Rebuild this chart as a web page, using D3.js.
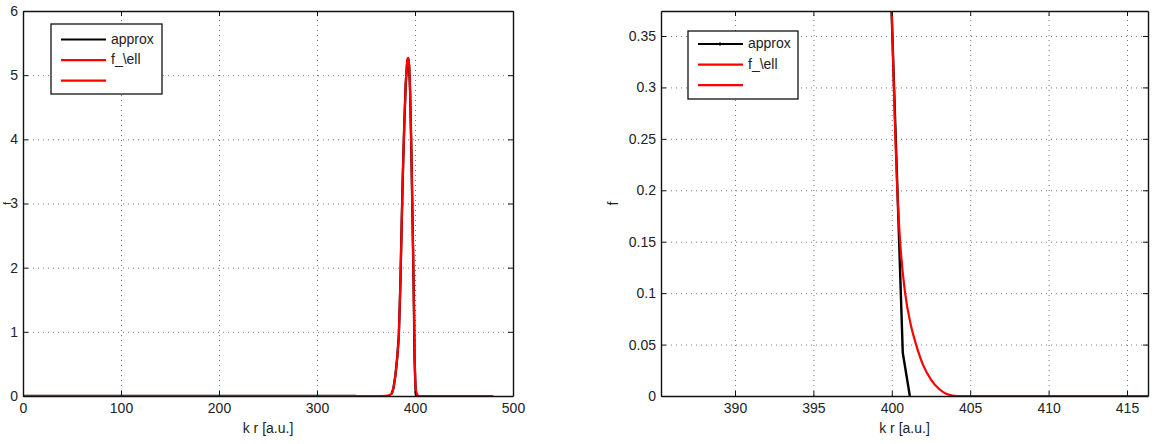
<!DOCTYPE html>
<html>
<head>
<meta charset="utf-8">
<script src="https://cdn.jsdelivr.net/npm/d3@7"></script>
<style>
  body { margin: 0; background: #fff; }
  svg { display: block; }
  text { font-family: "Liberation Sans", Arial, sans-serif; fill: #222; }
</style>
</head>
<body>
<script>
 ///////////////////////////////////////////////////////
 // data

 // f_\ell (red), sampled along k r
 var krEll = [0, 100, 200, 300, 340, 360, 370, 374, 376, 378, 380, 382, 383.5, 385, 386.3, 387.5, 389, 390.5, 392, 393,
   394, 395, 396, 397, 398, 399, 399.6, 400, 400.13, 400.23, 400.35, 400.53, 400.85, 401.2, 401.55, 402, 402.5, 403, 403.5, 404.2, 480];
 var fEll = [0, 0, 0, 0, 0, 0, 0.003, 0.015, 0.03, 0.12, 0.32, 0.62, 0.95, 1.7, 2.6, 3.4, 4.2, 4.85, 5.2, 5.27,
   5.15, 4.75, 4.05, 3.2, 2.3, 1.3, 0.7, 0.372, 0.3, 0.25, 0.2, 0.15, 0.1, 0.07, 0.05, 0.03, 0.016, 0.007, 0.002, 0, 0];

 // approx (black), null = break in the line
 var krApprox = [0, 100, 200, 300, 340, 340, 376, 378, 380, 382, 383.5, 385, 386.3, 387.5, 389, 390.5, 392, 393,
   394, 395, 396, 397, 398, 399, 399.5, 400.7, 401.15];
 var fApprox = [0, 0, 0, 0, 0, null, 0.03, 0.12, 0.32, 0.62, 0.95, 1.7, 2.6, 3.4, 4.2, 4.85, 5.2, 5.27,
   5.15, 4.75, 4.05, 3.2, 2.3, 1.3, 0.6, 0.042, 0];

 var legendLabels = ["approx", "f_\\ell", ""];
 var legendColors = ["#000", "#f00", "#f00"];

 var leftXTicks = [0, 100, 200, 300, 400, 500];
 var leftYTicks = [0, 1, 2, 3, 4, 5, 6];
 var rightXTicks = [390, 395, 400, 405, 410, 415];
 var rightYTicks = [0, 0.05, 0.1, 0.15, 0.2, 0.25, 0.3, 0.35];

 ///////////////////////////////////////////////////////
 // svg

 var w = 1156;
 var h = 444;
 var fontSize = 14;
 var svg = d3.select("body").append("svg")
   .attr("width", w)
   .attr("height", h);

 var ellData = krEll.map(function(k, i) { return { k: k, f: fEll[i] }; });
 var approxData = krApprox.map(function(k, i) { return { k: k, f: fApprox[i] }; });

 ///////////////////////////////////////////////////////
 // panel

 function dotted(s) {
   s.select(".domain").remove();
   s.selectAll("line").attr("stroke", "#777").attr("stroke-dasharray", "1,4");
 }

 function drawPanel(params) {
   var x = d3.scaleLinear().domain(params.xDomain).range([params.left, params.right]);
   var y = d3.scaleLinear().domain(params.yDomain).range([params.bottom, params.top]);
   var width = params.right - params.left,
     height = params.bottom - params.top;
   var g = svg.append("g");

   // gridlines
   g.append("g")
     .attr("transform", "translate(0," + params.bottom + ")")
     .call(d3.axisBottom(x).tickValues(params.xTicks).tickFormat("").tickSize(-height))
     .call(dotted);
   g.append("g")
     .attr("transform", "translate(" + params.left + ",0)")
     .call(d3.axisLeft(y).tickValues(params.yTicks).tickFormat("").tickSize(-width))
     .call(dotted);

   // curves, clipped to the box
   var clipId = "clip" + params.id;
   svg.append("clipPath").attr("id", clipId)
     .append("rect")
     .attr("x", params.left).attr("y", params.top)
     .attr("width", width).attr("height", height);

   var plotArea = g.append("g").attr("clip-path", "url(#" + clipId + ")");

   var approxLine = d3.line()
     .defined(function(d) { return d.f != null; })
     .x(function(d) { return x(d.k); })
     .y(function(d) { return y(d.f); });
   var ellLine = d3.line()
     .curve(d3.curveMonotoneX)
     .x(function(d) { return x(d.k); })
     .y(function(d) { return y(d.f); });

   plotArea.append("path")
     .datum(approxData)
     .attr("d", approxLine)
     .attr("fill", "none")
     .attr("stroke", "#000")
     .attr("stroke-width", 2.4);
   plotArea.append("path")
     .datum(ellData)
     .attr("d", ellLine)
     .attr("fill", "none")
     .attr("stroke", "#f00")
     .attr("stroke-width", 2.2);

   // axes with inward ticks on all four sides
   var fmt = params.fmt;
   g.append("g")
     .attr("transform", "translate(0," + params.bottom + ")")
     .call(d3.axisBottom(x).tickValues(params.xTicks).tickSizeInner(-5).tickSizeOuter(0).tickPadding(7).tickFormat(fmt.x));
   g.append("g")
     .attr("transform", "translate(0," + params.top + ")")
     .call(d3.axisTop(x).tickValues(params.xTicks).tickSizeInner(-5).tickSizeOuter(0).tickFormat(""));
   g.append("g")
     .attr("transform", "translate(" + params.left + ",0)")
     .call(d3.axisLeft(y).tickValues(params.yTicks).tickSizeInner(-5).tickSizeOuter(0).tickPadding(5).tickFormat(fmt.y));
   g.append("g")
     .attr("transform", "translate(" + params.right + ",0)")
     .call(d3.axisRight(y).tickValues(params.yTicks).tickSizeInner(-5).tickSizeOuter(0).tickFormat(""));

   g.selectAll(".domain").attr("stroke", "#111").attr("stroke-width", 1.4);
   g.selectAll(".tick line").filter(function() { return !this.getAttribute("stroke-dasharray"); })
     .attr("stroke", "#111");
   g.selectAll(".tick text")
     .attr("font-size", fontSize)
     .attr("font-family", "Liberation Sans, Arial, sans-serif")
     .attr("fill", "#222");

   // axis titles
   g.append("text")
     .attr("x", (params.left + params.right) / 2)
     .attr("y", 433)
     .attr("text-anchor", "middle")
     .attr("font-size", fontSize)
     .text("k r [a.u.]");
   g.append("text")
     .attr("transform", "translate(" + params.yLabel.x + "," + ((params.top + params.bottom) / 2) + ") rotate(-90)")
     .attr("text-anchor", "middle")
     .attr("font-size", params.yLabel.size)
     .text("f");

   // legend
   var lg = g.append("g").attr("transform", "translate(" + params.legend.x + "," + params.legend.y + ")");
   lg.append("rect")
     .attr("width", params.legend.w)
     .attr("height", params.legend.h)
     .attr("fill", "#fff")
     .attr("stroke", "#111")
     .attr("stroke-width", 1.3);
   legendLabels.forEach(function(label, i) {
     var ly = params.legend.row0 + i * 20.6;
     lg.append("line")
       .attr("x1", 10).attr("x2", 55)
       .attr("y1", ly).attr("y2", ly)
       .attr("stroke", legendColors[i])
       .attr("stroke-width", 2.2);
     if (i === 0 && params.legend.marker) {
       lg.append("line")
         .attr("x1", 32).attr("x2", 32)
         .attr("y1", ly - 2).attr("y2", ly + 2)
         .attr("stroke", "#000")
         .attr("stroke-width", 1);
     }
     lg.append("text")
       .attr("x", 60)
       .attr("y", ly + 4)
       .attr("font-size", fontSize)
       .text(label);
   });
 } // end of function drawPanel

 ///////////////////////////////////////////////////////
 // calling the panels

 drawPanel({
   id: "L",
   left: 23, right: 513, top: 11, bottom: 396,
   xDomain: [0, 500], yDomain: [0, 6],
   xTicks: leftXTicks, yTicks: leftYTicks,
   fmt: { x: d3.format("d"), y: d3.format("d") },
   yLabel: { x: 10.5, size: 11 },
   legend: { x: 51, y: 24, w: 111, h: 70, row0: 15.5, marker: false }
 });

 drawPanel({
   id: "R",
   left: 661, right: 1148, top: 11, bottom: 396,
   xDomain: [385.28, 416.34], yDomain: [0, 0.3743],
   xTicks: rightXTicks, yTicks: rightYTicks,
   fmt: { x: d3.format("d"), y: function(d) { return String(+d.toFixed(2)); } },
   yLabel: { x: 618, size: fontSize },
   legend: { x: 688, y: 31, w: 110, h: 68, row0: 13, marker: true }
 });
</script>
</body>
</html>
